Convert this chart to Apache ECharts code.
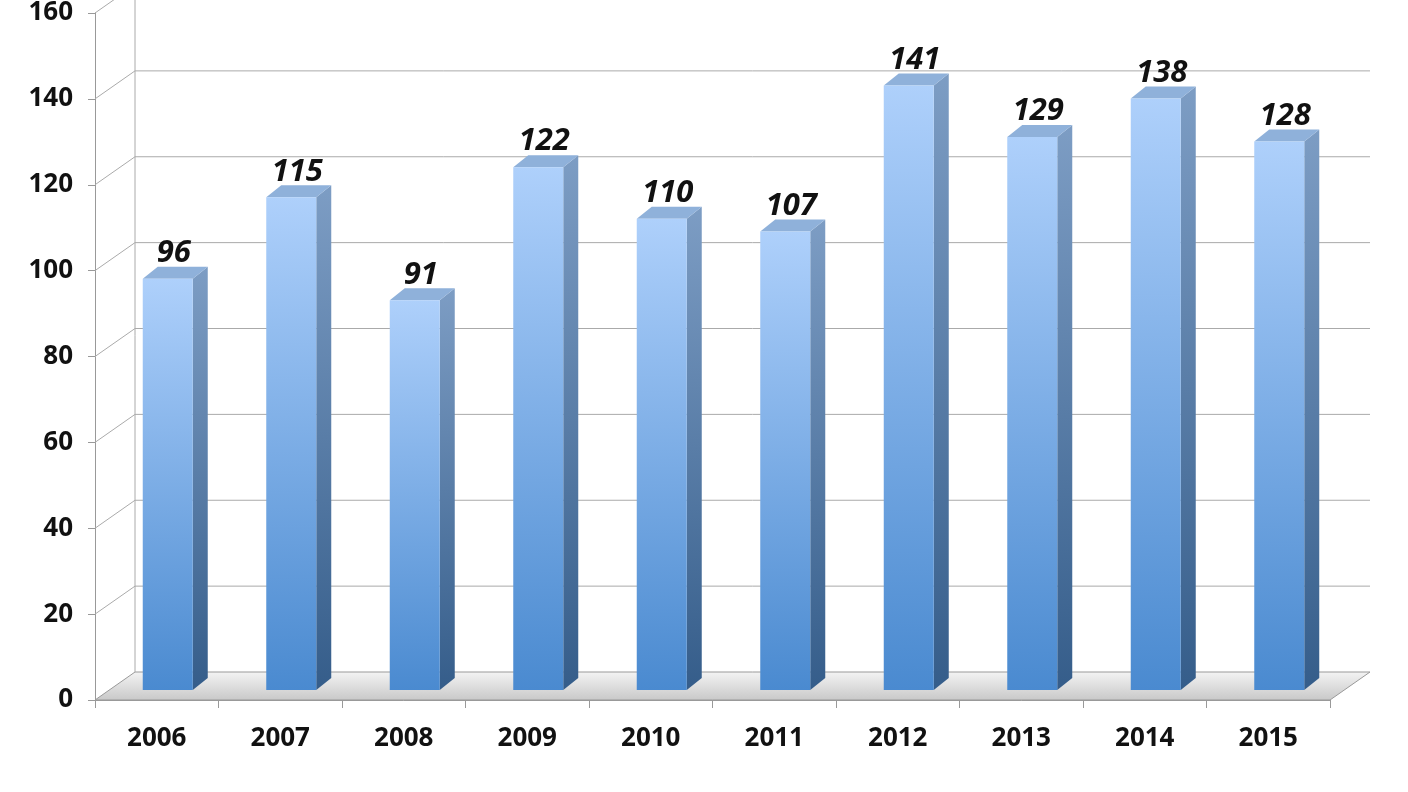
<!DOCTYPE html>
<html><head><meta charset="utf-8">
<script src="https://cdn.jsdelivr.net/npm/echarts@6/dist/echarts.min.js"></script>
<style>html,body{margin:0;background:#fff}#c{width:1408px;height:792px}</style>
</head><body><div id="c"></div>
<script>
const categories = ['2006','2007','2008','2009','2010','2011','2012','2013','2014','2015'];
const values = [96,115,91,122,110,107,141,129,138,128];
const gridTicks = [20,40,60,80,100,120,140,160];
const DX=40, DY=-28;
const chart = echarts.init(document.getElementById('c'));
chart.setOption({
  animation:false,
  grid:{left:95,right:78,top:12,bottom:92},
  xAxis:{type:'category',data:categories,
    axisLine:{lineStyle:{color:'#999'}},axisTick:{show:true,length:8,lineStyle:{color:'#999'}},
    axisLabel:{color:'#111',fontSize:26,fontWeight:'bold',fontFamily:'Open Sans',margin:26}},
  yAxis:{type:'value',min:0,max:160,interval:20,splitLine:{show:false},
    axisLine:{show:true,lineStyle:{color:'#999'}},axisTick:{show:true,length:7,lineStyle:{color:'#999'}},
    axisLabel:{color:'#111',fontSize:26,fontWeight:'bold',fontFamily:'Open Sans',margin:22}},
  series:[
   {type:'custom',z:1,data:[0],renderItem:function(p,api){
      const a=api.coord([0,0]);const x0=p.coordSys.x,x1=x0+p.coordSys.width,y=a[1];
      return {type:'group',children:[
       {type:'polygon',shape:{points:[[x0,y],[x1,y],[x1+DX,y+DY],[x0+DX,y+DY]]},
        style:{fill:new echarts.graphic.LinearGradient(0,0,0,1,[{offset:0,color:'#f4f4f4'},{offset:1,color:'#c8c8c8'}]),stroke:'#999',lineWidth:1}},
       {type:'line',shape:{x1:x0+DX,y1:y+DY,x2:x0+DX,y2:p.coordSys.y+DY},style:{stroke:'#aaa',lineWidth:1}}
      ]};
   }},
   {type:'custom',z:1,data:gridTicks.map((v,i)=>[i,v]),renderItem:function(p,api){
      const v=gridTicks[p.dataIndex];const y=api.coord([0,v])[1];const x0=p.coordSys.x,x1=x0+p.coordSys.width;
      return {type:'polyline',shape:{points:[[x0,y],[x0+DX,y+DY],[x1+DX,y+DY]]},style:{stroke:'#aaa',lineWidth:1,fill:null}};
   }},
   {type:'custom',z:5,data:values,renderItem:function(p,api){
      const i=p.dataIndex,v=values[i];
      const t=api.coord([i,v]),b=api.coord([i,0]);
      const c=t[0]+11,ty=t[1]-9,by=b[1]-10,w=25,sx=15,sy=-12;
      return {type:'group',children:[
        {type:'polygon',shape:{points:[[c+w,by],[c+w+sx,by+sy],[c+w+sx,ty+sy],[c+w,ty]]},
          style:{fill:new echarts.graphic.LinearGradient(0,0,0,1,[{offset:0,color:'#7d9dc4'},{offset:1,color:'#355d8a'}])}},
        {type:'polygon',shape:{points:[[c-w,ty],[c-w+sx,ty+sy],[c+w+sx,ty+sy],[c+w,ty]]},style:{fill:'#8fb1da'}},
        {type:'rect',shape:{x:c-w,y:ty,width:2*w,height:by-ty},
          style:{fill:new echarts.graphic.LinearGradient(0,0,0,1,[{offset:0,color:'#aed0fb'},{offset:1,color:'#4a8ad0'}])}},
        {type:'text',style:{text:String(v),x:c+6,y:ty-10,align:'center',verticalAlign:'bottom',
          font:'italic bold 31px "Open Sans"',fill:'#111'}}
      ]};
   }}
  ]
});
</script></body></html>
